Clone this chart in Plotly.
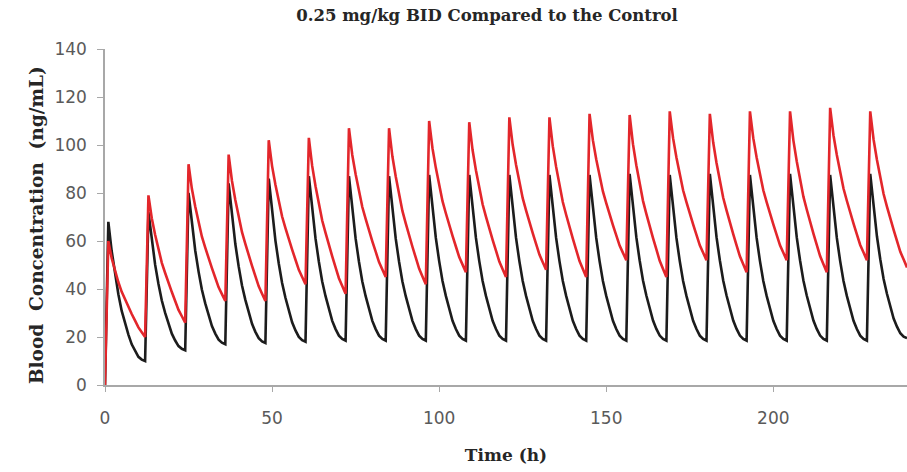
import plotly.graph_objects as go

# dosing (BID -> every 12 h)
dose_times = [0, 12, 24, 36, 48, 60, 72, 84, 96, 108, 120, 132, 144, 156, 168, 180, 192, 204, 216, 228]

# peak (about 1 h after each dose) and trough (just before the next dose)
control_peaks = [68, 72, 80, 84, 86, 87, 87, 87, 87.5, 87.5, 87.5, 87.5, 87.5, 88, 87.5, 88, 87.5, 88, 87.5, 88]
control_troughs = [10, 14.5, 17, 17.5, 18, 18.5, 18.5, 18.5, 18.5, 18.5, 18.5, 18.5, 18.5, 18.5, 18.5, 18.5, 18.5, 18.5, 18.5, 19.5]

bid_peaks = [60, 79, 92, 96, 102, 103, 107, 107, 110, 109.5, 111.5, 111.5, 113, 112.5, 114, 113, 114, 114, 115.5, 114]
bid_troughs = [20, 26, 35, 35, 42, 38, 45, 42, 47, 45, 48, 45, 52, 45, 52, 47, 52, 47, 52, 49]

# decay shape within one interval, read from a single cycle
# (fraction of the way from trough to peak, hours after dose)
profile_hours = [1, 2, 3, 4, 5, 6, 7, 8, 9, 10, 11]
control_profile = [1.0, 0.79, 0.62, 0.48, 0.36, 0.27, 0.19, 0.12, 0.07, 0.03, 0.01]
bid_profile = [1.0, 0.82, 0.69, 0.57, 0.47, 0.39, 0.31, 0.24, 0.17, 0.10, 0.05]


def build_curve(peaks, troughs, profile):
    xs = [0]
    ys = [0]
    for i, d in enumerate(dose_times):
        p = peaks[i]
        tr = troughs[i]
        for h, f in zip(profile_hours, profile):
            xs.append(d + h)
            ys.append(tr + (p - tr) * f)
        xs.append(d + 12)
        ys.append(tr)
    return xs, ys


cx, cy = build_curve(control_peaks, control_troughs, control_profile)
bx, by = build_curve(bid_peaks, bid_troughs, bid_profile)

fig = go.Figure()
fig.add_trace(go.Scatter(x=cx, y=cy, mode="lines", name="Control",
                         line=dict(color="#1c1c1c", width=2.6)))
fig.add_trace(go.Scatter(x=bx, y=by, mode="lines", name="0.25 mg/kg BID",
                         line=dict(color="#e3262b", width=2.6)))

axis_grey = "#a8a8a8"
tick_font = dict(family="DejaVu Sans", size=17, color="#5a5a5a")

fig.update_layout(
    width=907, height=472,
    margin=dict(l=105, r=0, t=49, b=87),
    paper_bgcolor="white", plot_bgcolor="white",
    showlegend=False,
    title=dict(text="<b>0.25 mg/kg BID Compared to the Control</b>",
               x=0.537, xanchor="center", y=0.968, yanchor="middle",
               font=dict(family="DejaVu Serif", size=16.5, color="#262626")),
)
fig.update_xaxes(range=[0, 240], tickvals=[0, 50, 100, 150, 200],
                 showgrid=False, zeroline=False,
                 showline=True, linecolor=axis_grey, linewidth=1.5,
                 ticks="outside", ticklen=5, tickcolor=axis_grey,
                 tickfont=tick_font, ticklabelstandoff=12,
                 title=dict(text="<b>Time (h)</b>",
                            font=dict(family="DejaVu Serif", size=17, color="#262626"),
                            standoff=22))
fig.update_yaxes(range=[0, 140], dtick=20,
                 showgrid=False, zeroline=False,
                 showline=True, linecolor=axis_grey, linewidth=1.5,
                 ticks="outside", ticklen=6, tickcolor=axis_grey,
                 tickfont=tick_font, ticklabelstandoff=7)

# y title sits close to the tick labels, so place it by hand
fig.add_annotation(text="<b>Blood  Concentration  (ng/mL)</b>",
                   xref="paper", yref="paper", x=-0.086, y=0.476,
                   xanchor="center", yanchor="middle", textangle=-90,
                   showarrow=False,
                   font=dict(family="DejaVu Serif", size=18.5, color="#262626"))

# page body has an 8px default margin; drop it so the figure sits at the corner
fig.write_html("out.html", config={"displayModeBar": False},
               post_script="document.body.style.margin='0px';")
